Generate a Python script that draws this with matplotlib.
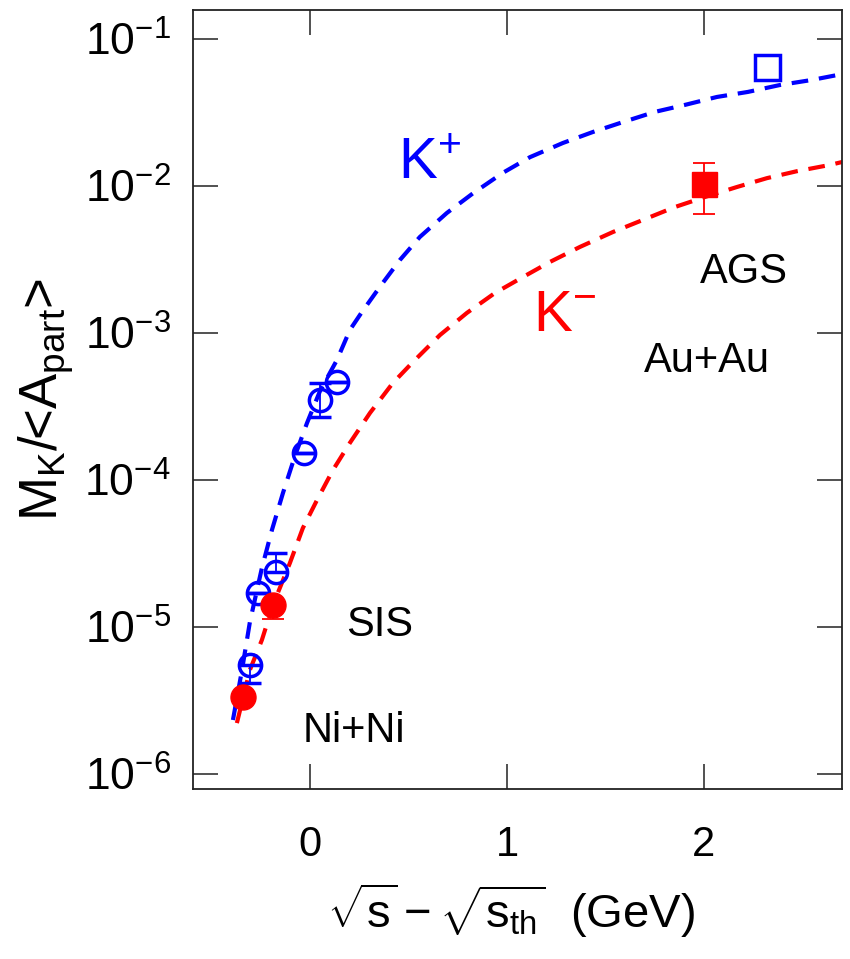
#!/usr/bin/env python3
"""Kaon multiplicity per participant vs excess energy (SIS / AGS)."""

import numpy as np
import matplotlib
matplotlib.use('Agg')
import matplotlib.pyplot as plt
from matplotlib.ticker import FixedLocator, NullLocator

plt.rcParams['font.family'] = ['Liberation Sans', 'DejaVu Sans']
plt.rcParams['mathtext.fontset'] = 'custom'
plt.rcParams['mathtext.rm'] = 'Liberation Sans'
plt.rcParams['mathtext.it'] = 'Liberation Sans:italic'
plt.rcParams['mathtext.bf'] = 'Liberation Sans:bold'

# ── data ───────────────────────────────────────────────────────
# dashed model curves
kp_curve_x = [-0.391, -0.345, -0.305, -0.244, -0.193, -0.137, -0.076, -0.015,
              0.051, 0.137, 0.203, 0.264, 0.355, 0.457, 0.558, 0.695, 0.827,
              0.980, 1.117, 1.284, 1.437, 1.589, 1.751, 1.904, 2.066, 2.223,
              2.386, 2.548, 2.706]
kp_curve_y = [2.33e-6, 5.10e-6, 1.08e-5, 2.52e-5, 4.57e-5, 8.16e-5, 1.46e-4,
              2.44e-4, 4.03e-4, 6.55e-4, 1.05e-3, 1.39e-3, 2.06e-3, 3.14e-3,
              4.50e-3, 6.55e-3, 8.90e-3, 1.23e-2, 1.57e-2, 1.96e-2, 2.33e-2,
              2.72e-2, 3.19e-2, 3.56e-2, 4.03e-2, 4.36e-2, 4.86e-2, 5.26e-2,
              5.78e-2]

km_curve_x = [-0.371, -0.305, -0.244, -0.188, -0.102, -0.036, 0.036, 0.117,
              0.203, 0.305, 0.421, 0.523, 0.660, 0.797, 0.939, 1.081, 1.218,
              1.371, 1.538, 1.690, 1.853, 2.005, 2.168, 2.320, 2.472, 2.640,
              2.706]
km_curve_y = [2.22e-6, 5.10e-6, 8.16e-6, 1.41e-5, 2.72e-5, 4.71e-5, 7.31e-5,
              1.17e-4, 1.79e-4, 2.86e-4, 4.57e-4, 6.35e-4, 9.68e-4, 1.37e-3,
              1.87e-3, 2.40e-3, 3.04e-3, 3.85e-3, 4.86e-3, 5.87e-3, 7.19e-3,
              8.41e-3, 9.84e-3, 1.13e-2, 1.26e-2, 1.39e-2, 1.46e-2]

# SIS Ni+Ni K+ (open circles)
kp_sis_x = [-0.305, -0.264, -0.173, -0.030, 0.051, 0.137]
kp_sis_y = [5.51e-6, 1.70e-5, 2.37e-5, 1.53e-4, 3.50e-4, 4.64e-4]
kp_sis_lo = [4.16e-6, 1.70e-5, 2.37e-5, 1.53e-4, 2.68e-4, 4.64e-4]
kp_sis_hi = [5.51e-6, 1.70e-5, 3.19e-5, 1.53e-4, 4.57e-4, 4.64e-4]

# SIS Ni+Ni K- (filled circles)
km_sis_x = [-0.340, -0.188]
km_sis_y = [3.34e-6, 1.41e-5]
km_sis_lo = [3.34e-6, 1.13e-5]
km_sis_hi = [3.34e-6, 1.41e-5]

# AGS Au+Au (squares)
kp_ags_x = [2.320]
kp_ags_y = [6.45e-2]
km_ags_x = [2.000]
km_ags_y = [1.03e-2]
km_ags_lo = [6.45e-3]
km_ags_hi = [1.43e-2]

x_ticks = [0, 1, 2]
y_ticks = [1e-6, 1e-5, 1e-4, 1e-3, 1e-2, 1e-1]

BLUE = '#0000ff'
RED = '#ff0000'

fig = plt.figure(figsize=(8.5, 9.59), dpi=100)
ax = fig.add_axes([0.227, 0.1773, 0.7636, 0.8123])

# ── curves ────────────────────────────────────────────────────
ax.plot(kp_curve_x, kp_curve_y, color=BLUE, lw=3, dashes=(4, 2.6), zorder=2)
ax.plot(km_curve_x, km_curve_y, color=RED, lw=3, dashes=(4, 2.6), zorder=2)

# ── data points ───────────────────────────────────────────────
def yerr(y, lo, hi):
    y = np.asarray(y)
    return [y - np.asarray(lo), np.asarray(hi) - y]

ax.errorbar(kp_sis_x, kp_sis_y, yerr=yerr(kp_sis_y, kp_sis_lo, kp_sis_hi),
            fmt='o', ms=16, mfc='none', mec=BLUE, mew=2.5, ecolor=BLUE,
            elinewidth=1.3, capsize=8, capthick=1.3, zorder=3)
ax.errorbar(km_sis_x, km_sis_y, yerr=yerr(km_sis_y, km_sis_lo, km_sis_hi),
            fmt='o', ms=18, mfc=RED, mec=RED, ecolor=RED,
            elinewidth=1.3, capsize=8, capthick=1.3, zorder=4)
ax.plot(kp_ags_x, kp_ags_y, 's', ms=18, mfc='none', mec=BLUE, mew=2.5, zorder=3)
ax.errorbar(km_ags_x, km_ags_y, yerr=yerr(km_ags_y, km_ags_lo, km_ags_hi),
            fmt='s', ms=18, mfc=RED, mec=RED, ecolor=RED,
            elinewidth=1.3, capsize=8, capthick=1.3, zorder=4)

# ── labels in the plot ────────────────────────────────────────
ax.text(0.609, 1.43e-2, r'K$^{+}$', color=BLUE, fontsize=42, ha='center', va='center')
ax.text(1.294, 1.30e-3, r'K$^{-}$', color=RED, fontsize=42, ha='center', va='center')
ax.text(2.203, 2.60e-3, 'AGS', color='black', fontsize=30, ha='center', va='center')
ax.text(2.015, 6.46e-4, 'Au+Au', color='black', fontsize=30, ha='center', va='center')
ax.text(0.355, 1.03e-5, 'SIS', color='black', fontsize=30, ha='center', va='center')
ax.text(0.223, 1.96e-6, 'Ni+Ni', color='black', fontsize=30, ha='center', va='center')

# ── axes ──────────────────────────────────────────────────────
ax.set_yscale('log')
ax.set_xlim(-0.594, 2.701)
ax.set_ylim(7.91e-7, 1.574e-1)
ax.xaxis.set_major_locator(FixedLocator(x_ticks))
ax.yaxis.set_major_locator(FixedLocator(y_ticks))
ax.xaxis.set_minor_locator(NullLocator())
ax.yaxis.set_minor_locator(NullLocator())

ax.tick_params(axis='both', which='major', direction='in', length=18, width=1.1,
               top=True, right=True, color='#222222')
ax.tick_params(axis='x', labelsize=30, pad=26)
ax.tick_params(axis='y', labelsize=32, pad=16)
for sp in ax.spines.values():
    sp.set_linewidth(1.3)
    sp.set_color('#222222')

ax.set_xlabel(r'$\sqrt{\mathrm{s}}-\sqrt{\mathrm{s}_{\mathrm{th}}}$  (GeV)', fontsize=34)
ax.xaxis.set_label_coords(0.49, -0.118)
ax.set_ylabel(r'M$_{\mathrm{K}}$/<A$_{\mathrm{part}}$>', fontsize=38)
ax.yaxis.set_label_coords(-0.18, 0.50)

fig.savefig('out.png', dpi=100, facecolor='white')
plt.close(fig)
